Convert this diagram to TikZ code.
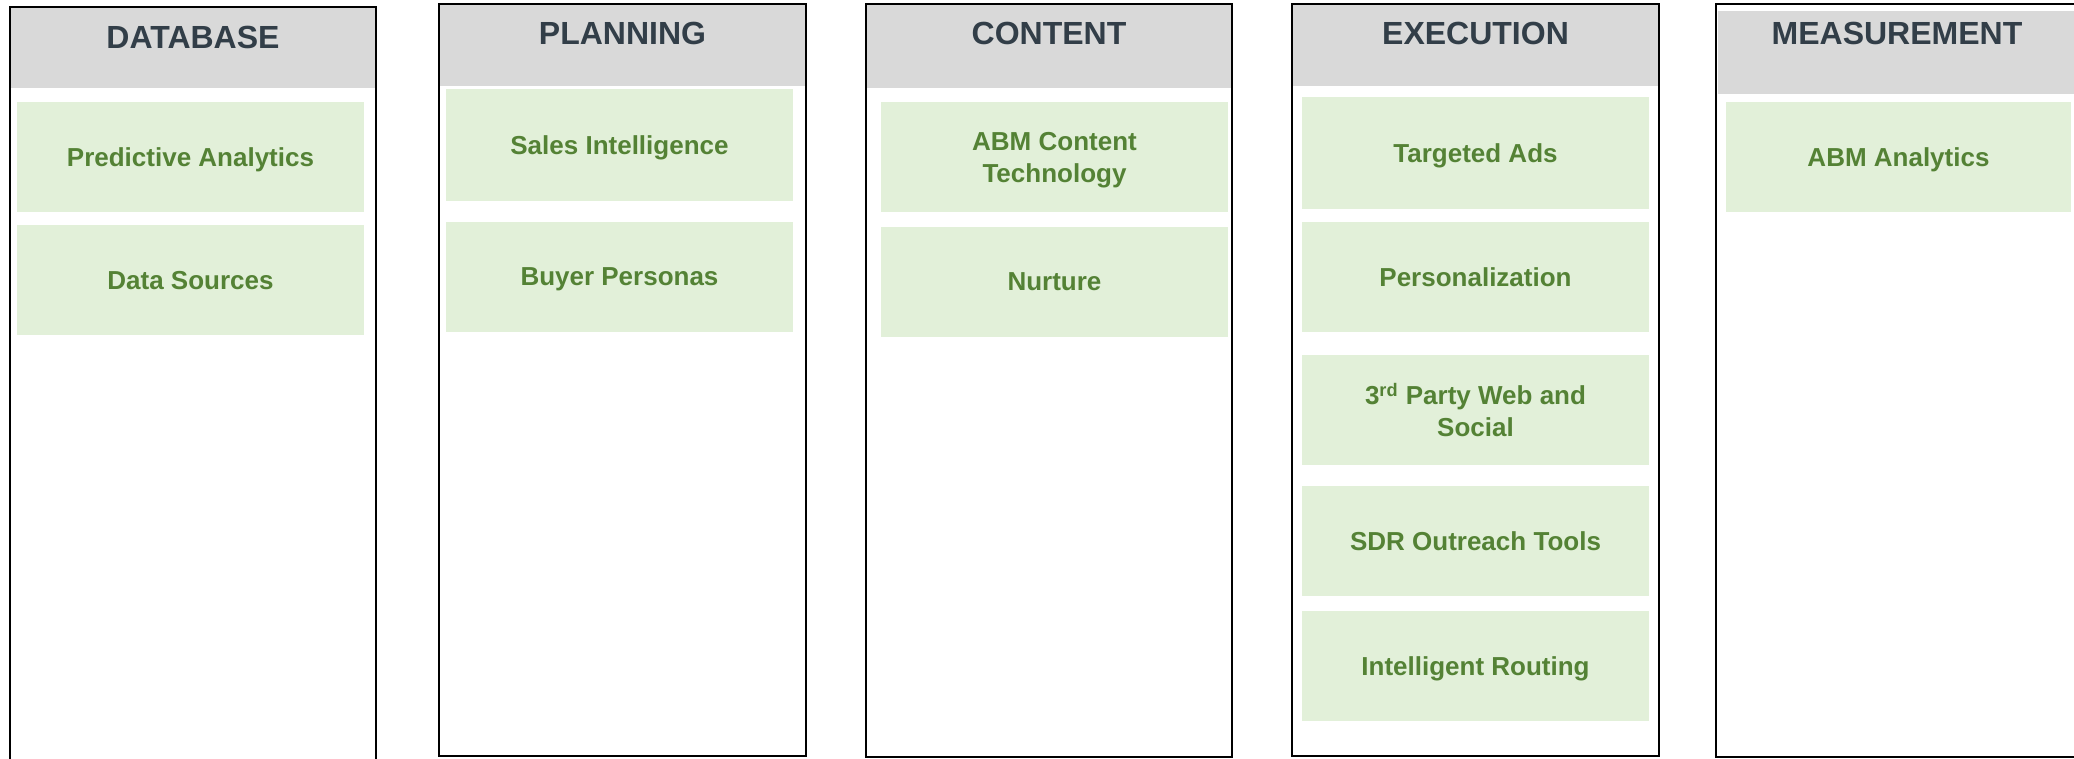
\documentclass[tikz,border=0pt]{standalone}
\usepackage{fontspec}
\setmainfont{Liberation Sans}
\begin{document}
\definecolor{headgray}{HTML}{D9D9D9}
\definecolor{headtext}{HTML}{323E48}
\definecolor{itemfill}{HTML}{E2F0D9}
\definecolor{itemtext}{HTML}{548235}
\begin{tikzpicture}[x=0.5pt,y=-0.5pt,
  frame/.style={draw=black,line width=1.3pt},
  headfill/.style={fill=headgray},
  headlabel/.style={anchor=base,text=headtext,font=\fontsize{16}{19}\selectfont\bfseries,inner sep=0pt},
  item/.style={fill=itemfill,text=itemtext,font=\fontsize{13}{16}\selectfont\bfseries,
    minimum width=173.5pt,minimum height=55pt,inner sep=0pt,align=center,text depth=0pt}]
\useasboundingbox (0,0) rectangle (2074,759);
\clip (0,0) rectangle (2074,759);

% header bands
\fill[headfill] (10,7) rectangle (376,88);
\fill[headfill] (439,4) rectangle (806,86);
\fill[headfill] (866,4) rectangle (1232,88);
\fill[headfill] (1292,4) rectangle (1659,86);
\fill[headfill] (1718,11) rectangle (2080,94);

% column frames
\draw[frame] (10,775) -- (10,7) -- (376,7) -- (376,775);
\draw[frame] (439,4) rectangle (806,756);
\draw[frame] (866,4) rectangle (1232,757);
\draw[frame] (1292,4) rectangle (1659,756);
\draw[frame] (2090,757) -- (1716,757) -- (1716,4) -- (2090,4);

% column titles
\node[headlabel] (hdb) at (193,49) {DATABASE};
\node[headlabel] (hpl) at (622.5,45) {PLANNING};
\node[headlabel] (hco) at (1049,45) {CONTENT};
\node[headlabel] (hex) at (1475.5,45) {EXECUTION};
\node[headlabel] (hme) at (1897,45) {MEASUREMENT};

% DATABASE
\node[item] (db1) at (190.5,157) {Predictive Analytics};
\node[item] (db2) at (190.5,280) {Data Sources};
% PLANNING
\node[item,minimum height=56pt] (pl1) at (619.5,145) {Sales Intelligence};
\node[item] (pl2) at (619.5,277) {Buyer Personas};
% CONTENT
\node[item] (co1) at (1054.5,157) {ABM Content\\Technology};
\node[item] (co2) at (1054.5,282) {Nurture};
% EXECUTION
\node[item,minimum height=56pt] (ex1) at (1475.5,153) {Targeted Ads};
\node[item] (ex2) at (1475.5,277) {Personalization};
\node[item] (ex3) at (1475.5,410) {3\textsuperscript{rd} Party Web and\\Social};
\node[item] (ex4) at (1475.5,541) {SDR Outreach Tools};
\node[item] (ex5) at (1475.5,666) {Intelligent Routing};
% MEASUREMENT
\node[item,minimum width=172.5pt] (me1) at (1898.5,157) {ABM Analytics};
\end{tikzpicture}
\end{document}
